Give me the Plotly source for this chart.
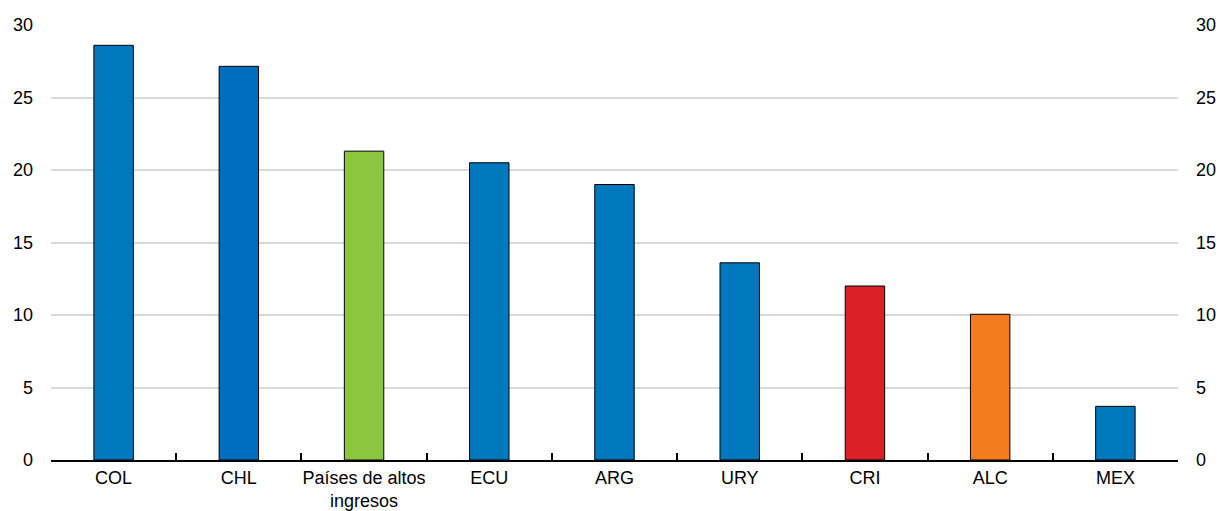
import plotly.graph_objects as go

categories = ["COL", "CHL", "Países de altos<br>ingresos", "ECU", "ARG", "URY", "CRI", "ALC", "MEX"]
values = [28.6, 27.15, 21.3, 20.5, 19.0, 13.6, 12.0, 10.05, 3.7]
colors = ["#0078BE", "#006EC0", "#8CC63F", "#0078BE", "#0078BE", "#0078BE", "#DA2128", "#F47C20", "#0078BE"]

y_ticks = [0, 5, 10, 15, 20, 25, 30]
FONT = "Liberation Sans, Arial, sans-serif"

fig = go.Figure()
fig.add_trace(go.Bar(
    x=categories, y=values,
    marker=dict(color=colors, line=dict(color="#000000", width=1)),
    width=0.315, showlegend=False,
))
# invisible trace for right axis
fig.add_trace(go.Scatter(x=categories, y=values, yaxis="y2", mode="markers",
                         marker=dict(opacity=0), showlegend=False, hoverinfo="skip"))

fig.update_layout(
    width=1220, height=511,
    margin=dict(l=51, r=42, t=25, b=51, autoexpand=False),
    paper_bgcolor="white", plot_bgcolor="white",
    font=dict(family=FONT, size=18, color="#000000"),
    xaxis=dict(
        showgrid=False, showline=True, linecolor="#000000", linewidth=2,
        ticks="inside", tickson="boundaries", ticklen=7, tickwidth=2, tickcolor="#000000",
        tickfont=dict(size=18), tickangle=0, zeroline=False, automargin=False,
    ),
    yaxis=dict(
        range=[0, 30], tickvals=y_ticks, showgrid=True, gridcolor="#D9D9D9", gridwidth=2,
        zeroline=False, showline=False, ticks="", ticklabelstandoff=17, automargin=False,
    ),
    yaxis2=dict(
        range=[0, 30], tickvals=y_ticks, overlaying="y", side="right", showgrid=False,
        zeroline=False, showline=False, ticks="", ticklabelstandoff=17, automargin=False,
    ),
    bargap=0.685,
)

fig.write_html(
    "out.html",
    config={"displayModeBar": False},
    post_script="document.body.style.margin='0';document.body.style.overflow='hidden';",
)
